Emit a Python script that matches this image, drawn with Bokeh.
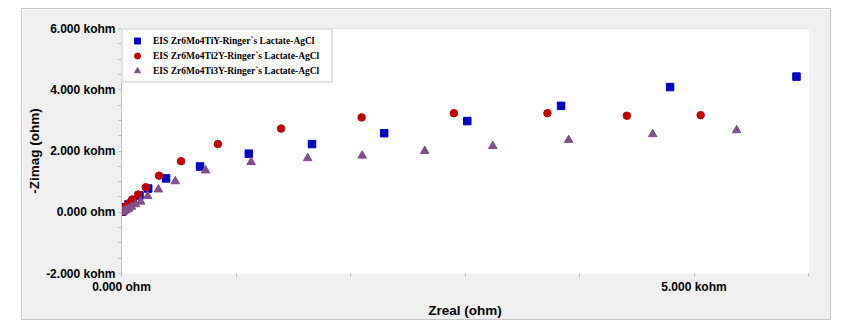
from bokeh.plotting import figure
from bokeh.models import Range1d, FixedTicker, Span, Legend, LegendItem, Title
from bokeh.embed import file_html
from bokeh.resources import INLINE

# ---- data (ohm) ----
s1_name = "EIS Zr6Mo4TiY-Ringer`s Lactate-AgCl"
s1_zreal = [4, 9, 17, 35, 61, 98, 157, 233, 389, 686, 1112, 1664, 2294, 3020, 3839, 4791, 5895]
s1_zimag = [16, 48, 97, 161, 258, 365, 548, 774, 1106, 1494, 1913, 2226, 2581, 2977, 3474, 4087, 4429]

s2_name = "EIS Zr6Mo4Ti2Y-Ringer`s Lactate-AgCl"
s2_zreal = [4, 13, 26, 48, 70, 96, 145, 212, 328, 520, 842, 1394, 2097, 2903, 3720, 4414, 5058]
s2_zimag = [16, 65, 129, 210, 306, 419, 581, 816, 1194, 1668, 2226, 2732, 3097, 3235, 3235, 3152, 3171]

s3_name = "EIS Zr6Mo4Ti3Y-Ringer`s Lactate-AgCl"
s3_zreal = [9, 22, 39, 61, 87, 122, 168, 229, 322, 470, 734, 1132, 1626, 2102, 2648, 3243, 3905, 4640, 5372]
s3_zimag = [16, 32, 65, 113, 177, 258, 345, 526, 742, 1010, 1365, 1639, 1765, 1848, 2000, 2161, 2355, 2548, 2677]

x_major = [0, 5000]
x_minor = [1000, 2000, 3000, 4000, 6000]
x_labels = {0: "0.000 ohm", 5000: "5.000 kohm"}
y_major = [-2000, 0, 2000, 4000, 6000]
y_minor = [-1500, -1000, -500, 500, 1000, 1500, 2500, 3000, 3500, 4500, 5000, 5500]
y_labels = {-2000: "-2.000 kohm", 0: "0.000 ohm", 2000: "2.000 kohm",
            4000: "4.000 kohm", 6000: "6.000 kohm"}

BG = "#F0F0F0"
TICK = "#B8B8B8"

p = figure(width=810, height=312, output_backend="svg", toolbar_location=None,
           x_range=Range1d(0, 6000), y_range=Range1d(-2000, 6000),
           min_border_left=98, min_border_right=24, min_border_top=19, min_border_bottom=45,
           background_fill_color="white", border_fill_color=BG, outline_line_color=None)
p.margin = (8, 0, 0, 21)
p.styles = {"border": "1px solid #C8C8C8"}
p.xgrid.visible = False
p.ygrid.visible = False

# axes
p.xaxis.ticker = FixedTicker(ticks=x_major, minor_ticks=x_minor)
p.xaxis.major_label_overrides = x_labels
p.yaxis.ticker = FixedTicker(ticks=y_major, minor_ticks=y_minor)
p.yaxis.major_label_overrides = y_labels
for ax in (p.xaxis[0], p.yaxis[0]):
    ax.major_tick_in = 0
    ax.major_tick_out = 3
    ax.minor_tick_in = 0
    ax.minor_tick_out = 3
    ax.major_tick_line_color = TICK
    ax.minor_tick_line_color = TICK
    ax.major_label_text_font = "Liberation Sans"
    ax.major_label_text_font_style = "bold"
    ax.major_label_text_font_size = "12px"
    ax.major_label_text_color = "black"
    ax.major_label_standoff = 3
p.xaxis.axis_line_color = None
p.yaxis.axis_line_color = "#C0C0C0"
p.add_layout(Span(location=6000, dimension="width", line_color="#D0D0D0", line_width=1))

r1 = p.scatter(s1_zreal, s1_zimag, marker="square", size=7.5, fill_color="#0000C0", line_color="#0000C0")
r2 = p.scatter(s2_zreal, s2_zimag, marker="circle", size=7.5, fill_color="#C00000", line_color="#C00000")
r3 = p.scatter(s3_zreal, s3_zimag, marker="triangle", size=8.5, fill_color="#80508A", line_color="#80508A")

legend = Legend(items=[LegendItem(label=s1_name, renderers=[r1]),
                       LegendItem(label=s2_name, renderers=[r2]),
                       LegendItem(label=s3_name, renderers=[r3])],
                location="top_left", margin=0, padding=3, spacing=0,
                glyph_width=22, glyph_height=15, label_height=15, label_standoff=5,
                label_width=175,
                label_text_font="Liberation Serif", label_text_font_style="bold",
                label_text_font_size="9.5px", label_text_color="black",
                background_fill_color="white", background_fill_alpha=1,
                border_line_color="#C8C8C8", border_line_width=2)
p.add_layout(legend)

# axis titles
p.add_layout(Title(text="Zreal (ohm)", align="center", offset=-37, standoff=8,
                   text_font="Liberation Sans", text_font_style="bold",
                   text_font_size="13.5px", text_color="black"), "below")
p.add_layout(Title(text="-Zimag (ohm)", align="center", offset=-11, standoff=4,
                   text_font="Liberation Sans", text_font_style="bold",
                   text_font_size="13.5px", text_color="black"), "left")

open("out.html", "w").write(file_html(p, INLINE))
